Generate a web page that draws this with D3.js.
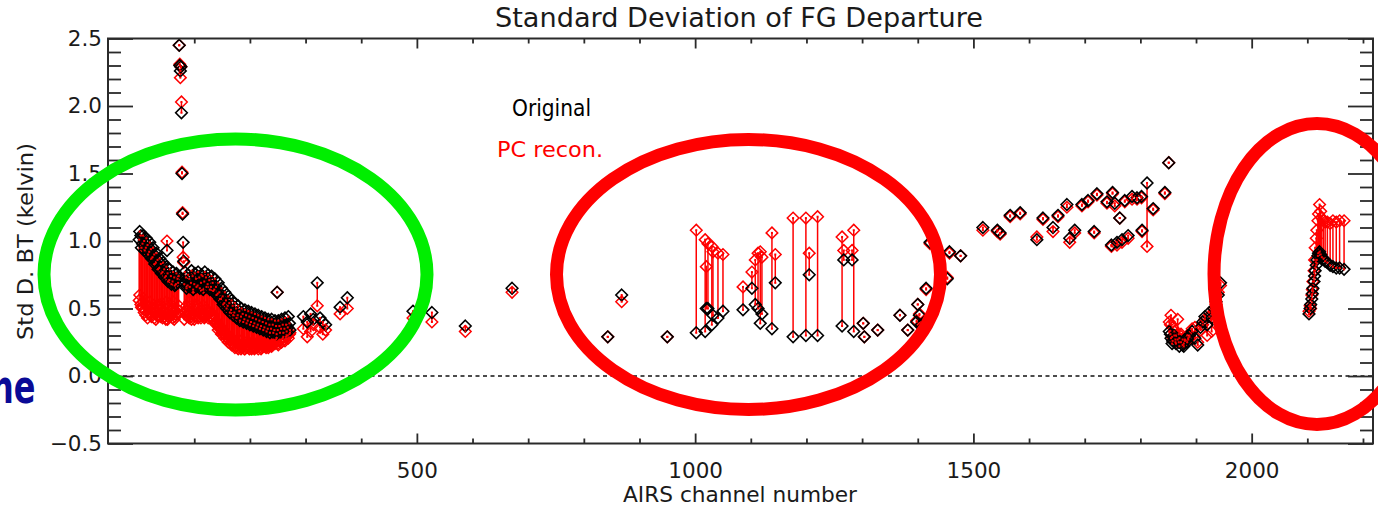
<!DOCTYPE html>
<html>
<head>
<meta charset="utf-8">
<script src="https://cdn.jsdelivr.net/npm/d3@7"></script>
<style>
  body { margin: 0; background: #fff; }
  svg { display: block; }
  text { font-family: "DejaVu Sans", "Liberation Sans", sans-serif; }
</style>
</head>
<body>
<svg id="chart" width="1378" height="508"></svg>
<script>
// AIRS channel numbers and the standard deviation (K) of first-guess departures,
// for the original radiances and for the PC-reconstructed radiances.
const channel = [
  1, 4, 7, 10, 13, 16, 19, 22, 25, 28, 31, 34, 37, 40, 43, 46, 49, 51, 52, 55, 58, 61, 64, 67, 70,
  73, 74, 75, 76, 77, 78, 79, 80, 81,
  82, 85, 88, 91, 94, 97, 100, 103, 106, 109, 112, 115, 118, 121, 124, 127, 130, 133, 136,
  139, 142, 145, 148, 151, 154, 157, 160, 163, 166, 169, 172, 175, 178, 181, 184, 187, 190,
  193, 196, 199, 202, 205, 208, 211, 214, 217, 220, 223, 226, 229, 232, 235, 238, 241, 244, 247,
  249, 250, 253, 256, 259, 262, 265, 268, 271,
  296, 303, 309, 314, 321, 326, 331, 336, 362, 375, 493, 527, 587, 671, 843, 868, 950,
  1002, 1018, 1020, 1023, 1030, 1032, 1041, 1050, 1086, 1102, 1108, 1113, 1117, 1120, 1138, 1144,
  1176, 1199, 1205, 1220, 1264, 1267, 1282, 1285, 1302, 1304, 1328, 1368, 1382, 1398, 1400, 1403,
  1406, 1415, 1422, 1453, 1457, 1477,
  1517, 1543, 1548, 1566, 1584, 1614, 1625, 1643, 1652, 1668, 1673, 1682, 1695, 1706, 1717, 1722,
  1740, 1748, 1750, 1754, 1758, 1763, 1767, 1772, 1778, 1785, 1794, 1802, 1803, 1812, 1823, 1844, 1851,
  1852, 1855, 1858, 1861, 1864, 1867, 1870, 1873, 1876, 1880, 1884, 1888, 1893, 1898, 1903, 1908,
  1912, 1916, 1920, 1924, 1928, 1932, 1936, 1940, 1944,
  1854, 1857, 1863, 1869, 1878, 1886,
  2103, 2105, 2106, 2108, 2109, 2110, 2112, 2113, 2114, 2116, 2117, 2119, 2120, 2122, 2124, 2126,
  2129, 2132, 2136, 2141, 2146, 2152, 2158, 2166
];

const stdOriginal = [
  1.01, 1.04, 0.98, 1.00, 0.95, 0.97, 0.92, 0.94, 0.88, 0.90, 0.84, 0.86, 0.80, 0.83, 0.77, 0.79, 0.74, 0.93, 0.76, 0.71, 0.74, 0.70, 0.73, 0.68, 0.72,
  2.45, 2.30, 2.26, 2.29, 1.95, 1.50, 1.20, 0.99, 0.85,
  0.68, 0.73, 0.67, 0.72, 0.69, 0.74, 0.68, 0.72, 0.67, 0.73, 0.69, 0.74, 0.70, 0.73, 0.68, 0.71, 0.66, 0.69, 0.64,
  0.66, 0.61, 0.62, 0.57, 0.59, 0.54, 0.56, 0.52, 0.54, 0.49, 0.52, 0.47, 0.50, 0.45, 0.48, 0.44, 0.46, 0.42,
  0.45, 0.41, 0.44, 0.40, 0.43, 0.39, 0.42, 0.38, 0.41, 0.37, 0.40, 0.36, 0.39, 0.35, 0.38, 0.35, 0.38, 0.34, 0.37,
  0.62, 0.34, 0.37, 0.35, 0.38, 0.35, 0.38, 0.36, 0.39,
  0.44, 0.40, 0.46, 0.42, 0.69, 0.43, 0.40, 0.38, 0.51, 0.58, 0.48, 0.47, 0.37, 0.65, 0.29, 0.60, 0.29,
  0.32, 0.33, 0.50, 0.50, 0.38, 0.45, 0.43, 0.48, 0.49, 0.65, 0.53, 0.50, 0.39, 0.46, 0.35, 0.69,
  0.29, 0.30, 0.75, 0.30, 0.37, 0.86, 0.86, 0.33, 0.39, 0.29, 0.34, 0.45, 0.34, 0.40, 0.53, 0.45,
  0.38, 0.65, 0.99, 0.72, 0.92, 0.89,
  1.10, 1.08, 1.06, 1.19, 1.21, 1.01, 1.17, 1.10, 1.19, 1.27, 1.02, 1.08, 1.27, 1.30, 1.07, 1.35,
  1.29, 0.97, 1.36, 1.28, 0.99, 1.17, 1.01, 1.30, 1.04, 1.33, 1.32, 1.33, 1.08, 1.43, 1.24, 1.36, 1.58,
  0.33, 0.28, 0.26, 0.30, 0.24, 0.27, 0.22, 0.25, 0.23, 0.27, 0.25, 0.30, 0.33, 0.28, 0.23, 0.36,
  0.40, 0.44, 0.38, 0.47, 0.43, 0.50, 0.55, 0.60, 0.69,
  0.31, 0.24, 0.27, 0.25, 0.22, 0.28,
  0.46, 0.50, 0.53, 0.57, 0.61, 0.65, 0.70, 0.74, 0.78, 0.82, 0.86, 0.89, 0.91, 0.92, 0.90, 0.88,
  0.87, 0.85, 0.84, 0.82, 0.81, 0.80, 0.80, 0.79
];

const stdRecon = [
  0.56, 0.53, 0.50, 0.47, 0.45, 0.43, 0.46, 0.50, 0.46, 0.43, 0.42, 0.45, 0.49, 0.44, 0.43, 0.47, 0.42, 1.00, 0.42, 0.45, 0.48, 0.43, 0.42, 0.46, 0.47,
  2.45, 2.31, 2.21, 2.29, 2.03, 1.51, 1.21, 0.88, 0.84,
  0.42, 0.45, 0.48, 0.43, 0.44, 0.46, 0.42, 0.45, 0.50, 0.44, 0.43, 0.46, 0.43, 0.45, 0.48, 0.44, 0.43, 0.46, 0.42,
  0.40, 0.38, 0.36, 0.34, 0.32, 0.31, 0.29, 0.28, 0.27, 0.25, 0.24, 0.23, 0.22, 0.21, 0.23, 0.20, 0.22, 0.20,
  0.21, 0.23, 0.20, 0.21, 0.22, 0.20, 0.21, 0.22, 0.23, 0.20, 0.22, 0.24, 0.21, 0.23, 0.22, 0.24, 0.23, 0.25, 0.27,
  0.62, 0.24, 0.26, 0.25, 0.28, 0.27, 0.29, 0.30, 0.31,
  0.35, 0.29, 0.33, 0.38, 0.52, 0.36, 0.31, 0.34, 0.46, 0.50, 0.43, 0.40, 0.33, 0.62, 0.29, 0.55, 0.29,
  1.08, 1.01, 0.81, 0.98, 0.96, 0.92, 0.91, 0.90, 0.66, 0.77, 0.86, 0.91, 0.92, 0.88, 1.06, 0.90,
  1.17, 1.17, 0.91, 1.18, 1.03, 0.93, 0.93, 1.08, 0.39, 0.29, 0.34, 0.45, 0.34, 0.41, 0.53, 0.46,
  0.37, 0.64, 0.98, 0.73, 0.91, 0.89,
  1.08, 1.07, 1.05, 1.18, 1.20, 1.03, 1.16, 1.07, 1.18, 1.25, 0.99, 1.06, 1.26, 1.29, 1.06, 1.34,
  1.28, 0.96, 1.35, 1.26, 0.97, 1.17, 0.99, 1.29, 1.02, 1.31, 1.31, 1.32, 1.07, 0.96, 1.23, 1.35, 1.58,
  0.40, 0.45, 0.36, 0.33, 0.30, 0.42, 0.28, 0.31, 0.27, 0.26, 0.30, 0.29, 0.35, 0.36, 0.25, 0.34,
  0.38, 0.42, 0.30, 0.44, 0.33, 0.48, 0.53, 0.62, 0.67,
  0.38, 0.29, 0.25, 0.31, 0.24, 0.27,
  0.48, 0.52, 0.50, 0.60, 0.64, 0.70, 0.78, 0.86, 0.95, 1.02, 1.08, 1.15, 1.20, 1.27, 1.22, 1.17,
  1.15, 1.14, 1.14, 1.13, 1.15, 1.14, 1.15, 1.15
];

// the densely sampled CO2 band, interleaved with the channels above
const co2Channel = [
  2, 5, 8, 11, 14, 17, 20, 23, 26, 29, 32, 35, 38, 41, 44, 47, 50, 53, 56, 59, 62, 65, 68, 71, 72,
  83, 86, 89, 92, 95, 98, 101, 104, 107, 110, 113, 116, 119, 122, 125, 128, 131, 134,
  137, 140, 143, 146, 149, 152, 155, 158, 161, 164, 167, 170, 173, 176, 179, 182, 185, 188,
  191, 194, 197, 200, 203, 206, 209, 212, 215, 218, 221, 224, 227, 230, 233, 236, 239, 242,
  245, 248, 251, 254, 257, 260, 263, 266, 269, 272
];
const co2Original = [
  1.07, 0.95, 1.04, 0.93, 1.02, 0.90, 0.99, 0.87, 0.95, 0.83, 0.91, 0.79, 0.87, 0.76, 0.84, 0.73, 0.81, 0.70, 0.79, 0.68, 0.77, 0.67, 0.76, 0.69, 0.74,
  0.77, 0.65, 0.75, 0.66, 0.78, 0.64, 0.76, 0.66, 0.77, 0.65, 0.75, 0.64, 0.77, 0.66, 0.75, 0.64, 0.74, 0.63,
  0.72, 0.60, 0.69, 0.57, 0.65, 0.53, 0.62, 0.50, 0.59, 0.47, 0.56, 0.45, 0.54, 0.43, 0.52, 0.41, 0.50, 0.40,
  0.49, 0.39, 0.48, 0.38, 0.47, 0.37, 0.46, 0.36, 0.45, 0.35, 0.44, 0.34, 0.43, 0.33, 0.42, 0.32, 0.42, 0.32,
  0.41, 0.31, 0.41, 0.32, 0.42, 0.32, 0.43, 0.33, 0.44, 0.34
];
const co2Recon = [
  0.60, 0.51, 0.55, 0.49, 0.52, 0.47, 0.55, 0.44, 0.50, 0.47, 0.52, 0.44, 0.53, 0.46, 0.51, 0.44, 0.55, 0.44, 0.52, 0.45, 0.55, 0.44, 0.50, 0.46, 0.52,
  0.47, 0.52, 0.44, 0.55, 0.42, 0.49, 0.44, 0.53, 0.43, 0.48, 0.45, 0.52, 0.44, 0.49, 0.43, 0.47, 0.44, 0.45,
  0.39, 0.40, 0.34, 0.37, 0.31, 0.34, 0.28, 0.31, 0.25, 0.29, 0.23, 0.27, 0.21, 0.25, 0.20, 0.26, 0.21, 0.24,
  0.20, 0.25, 0.21, 0.24, 0.20, 0.25, 0.21, 0.24, 0.20, 0.25, 0.21, 0.26, 0.22, 0.25, 0.21, 0.26, 0.22, 0.27,
  0.24, 0.28, 0.23, 0.27, 0.25, 0.29, 0.26, 0.30, 0.28, 0.32
];

const xMajorTicks = [500, 1000, 1500, 2000];
const xMinorTicks = [100, 200, 300, 400, 600, 700, 800, 900, 1100, 1200, 1300, 1400,
                     1600, 1700, 1800, 1900, 2100, 2200];
const yMajorTicks = [-0.5, 0.0, 0.5, 1.0, 1.5, 2.0, 2.5];

const plot = { left: 108, right: 1373, top: 38.5, bottom: 443.5 };

const svg = d3.select("#chart");

const x = d3.scaleLinear().domain([-55, 2218]).range([plot.left, plot.right]);
const y = d3.scaleLinear().domain([-0.5, 2.5]).range([plot.bottom, plot.top]);

const yMinorTicks = d3.range(-5, 26).map(i => i / 10)
  .filter(v => Math.abs(v * 2 - Math.round(v * 2)) > 1e-6);

const axisColor = "#2a2a2a";
const labelColor = "#1a1a1a";

// zero reference line
svg.append("line")
  .attr("x1", plot.left).attr("x2", plot.right)
  .attr("y1", y(0)).attr("y2", y(0))
  .attr("stroke", "#111").attr("stroke-width", 1.4)
  .attr("stroke-dasharray", "4,3.5");

const rows = channel.map((c, i) => ({ c, o: stdOriginal[i], r: stdRecon[i] }))
  .concat(co2Channel.map((c, i) => ({ c, o: co2Original[i], r: co2Recon[i] })))
  .sort((a, b) => a.c - b.c);

// connectors from original to reconstructed value
svg.append("g").selectAll("line").data(rows).join("line")
  .attr("x1", d => x(d.c)).attr("x2", d => x(d.c))
  .attr("y1", d => y(d.o)).attr("y2", d => y(d.r))
  .attr("stroke", "#ff0000").attr("stroke-width", 1.5);

const diamond = "M0,-5.8L5.8,0L0,5.8L-5.8,0Z";

svg.append("g").selectAll("path").data(rows).join("path")
  .attr("d", diamond)
  .attr("transform", d => `translate(${x(d.c)},${y(d.r)})`)
  .attr("fill", "none").attr("stroke", "#ff0000").attr("stroke-width", 1.5);

svg.append("g").selectAll("path").data(rows).join("path")
  .attr("d", diamond)
  .attr("transform", d => `translate(${x(d.c)},${y(d.o)})`)
  .attr("fill", "none").attr("stroke", "#000").attr("stroke-width", 1.6);

// centre dots
const dots = svg.append("g").attr("fill", "#ff0000");
dots.selectAll("rect.o").data(rows).join("rect").attr("class", "o")
  .attr("x", d => x(d.c) - 1).attr("y", d => y(d.o) - 1).attr("width", 2).attr("height", 2);
dots.selectAll("rect.r").data(rows).join("rect").attr("class", "r")
  .attr("x", d => x(d.c) - 1).attr("y", d => y(d.r) - 1).attr("width", 2).attr("height", 2);

// axes: major and minor ticks on all four sides, pointing inwards
function styleAxis(g) {
  g.select(".domain").remove();
  g.selectAll(".tick line").attr("stroke", axisColor).attr("stroke-width", 1.8);
  g.selectAll(".tick text").attr("fill", labelColor).attr("font-size", 21.5)
    .attr("font-family", "\"DejaVu Sans\", sans-serif");
}

svg.append("g").attr("transform", `translate(0,${plot.bottom})`)
  .call(d3.axisBottom(x).tickValues(xMajorTicks).tickSize(-10).tickPadding(19).tickFormat(d3.format("d")))
  .call(styleAxis);
svg.append("g").attr("transform", `translate(0,${plot.bottom})`)
  .call(d3.axisBottom(x).tickValues(xMinorTicks).tickSize(-5).tickFormat(""))
  .call(styleAxis);
svg.append("g").attr("transform", `translate(0,${plot.top})`)
  .call(d3.axisTop(x).tickValues(xMajorTicks).tickSize(-10).tickFormat(""))
  .call(styleAxis);
svg.append("g").attr("transform", `translate(0,${plot.top})`)
  .call(d3.axisTop(x).tickValues(xMinorTicks).tickSize(-5).tickFormat(""))
  .call(styleAxis);

svg.append("g").attr("transform", `translate(${plot.left},0)`)
  .call(d3.axisLeft(y).tickValues(yMajorTicks).tickSize(-25).tickPadding(6).tickFormat(d3.format(".1f")))
  .call(styleAxis);
svg.append("g").attr("transform", `translate(${plot.left},0)`)
  .call(d3.axisLeft(y).tickValues(yMinorTicks).tickSize(-13).tickFormat(""))
  .call(styleAxis);
svg.append("g").attr("transform", `translate(${plot.right},0)`)
  .call(d3.axisRight(y).tickValues(yMajorTicks).tickSize(-25).tickFormat(""))
  .call(styleAxis);
svg.append("g").attr("transform", `translate(${plot.right},0)`)
  .call(d3.axisRight(y).tickValues(yMinorTicks).tickSize(-13).tickFormat(""))
  .call(styleAxis);

// frame
svg.append("rect")
  .attr("x", plot.left).attr("y", plot.top)
  .attr("width", plot.right - plot.left).attr("height", plot.bottom - plot.top)
  .attr("fill", "none").attr("stroke", axisColor).attr("stroke-width", 2);

// titles
svg.append("text")
  .attr("x", 495).attr("y", 27)
  .attr("font-size", 26).attr("fill", labelColor)
  .attr("textLength", 488).attr("lengthAdjust", "spacingAndGlyphs")
  .text("Standard Deviation of FG Departure");

svg.append("text")
  .attr("x", 623).attr("y", 502)
  .attr("font-size", 21).attr("fill", labelColor)
  .attr("textLength", 234).attr("lengthAdjust", "spacingAndGlyphs")
  .text("AIRS channel number");

svg.append("text")
  .attr("transform", "translate(33,241.5) rotate(-90)")
  .attr("text-anchor", "middle")
  .attr("font-size", 22).attr("fill", labelColor)
  .attr("textLength", 197).attr("lengthAdjust", "spacingAndGlyphs")
  .text("Std D. BT (kelvin)");

// legend
svg.append("text")
  .attr("x", 512).attr("y", 116)
  .attr("font-size", 23).attr("fill", "#000")
  .attr("textLength", 79).attr("lengthAdjust", "spacingAndGlyphs")
  .text("Original");
svg.append("text")
  .attr("x", 497).attr("y", 157)
  .attr("font-size", 22).attr("fill", "#ff0000")
  .attr("textLength", 106).attr("lengthAdjust", "spacingAndGlyphs")
  .text("PC recon.");

// highlighted channel groups
const ellipses = [
  { cx: 235.5, cy: 274.5, rx: 191.5, ry: 135.5, color: "#00ee00" },
  { cx: 748.5, cy: 274.5, rx: 192, ry: 135, color: "#ff0000" },
  { cx: 1317, cy: 274, rx: 103, ry: 150.5, color: "#ff0000" }
];
svg.append("g").selectAll("ellipse").data(ellipses).join("ellipse")
  .attr("cx", d => d.cx).attr("cy", d => d.cy)
  .attr("rx", d => d.rx).attr("ry", d => d.ry)
  .attr("fill", "none").attr("stroke", d => d.color).attr("stroke-width", 13);

// fragment of slide text at the left edge
svg.append("text")
  .attr("transform", "translate(-9,403) scale(1,1.45)")
  .attr("font-family", "\"Liberation Sans\", Arial, sans-serif")
  .attr("font-weight", "bold").attr("font-size", 32)
  .attr("fill", "#0a0a96")
  .text("ne");
</script>
</body>
</html>
